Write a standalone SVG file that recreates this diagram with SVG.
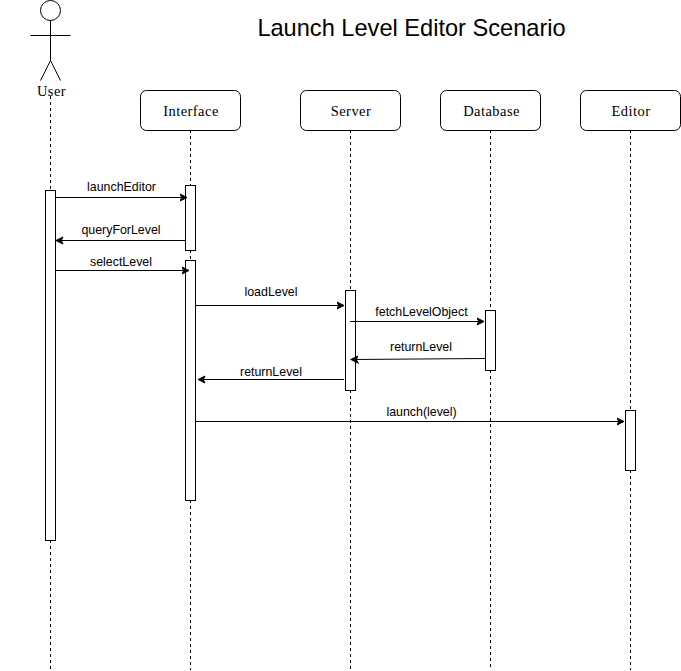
<svg xmlns="http://www.w3.org/2000/svg" width="681" height="671" viewBox="0 0 681 671">
<defs>
<style>
.ll{stroke:#000;stroke-width:1;stroke-dasharray:3 3;fill:none}
.box{fill:#fff;stroke:#000;stroke-width:1}
.act{fill:#fff;stroke:#000;stroke-width:1}
.msg{stroke:#000;stroke-width:1;fill:none;marker-end:url(#arr)}
.actor{stroke:#000;stroke-width:1;fill:none}
.serif{font-family:"Liberation Serif",serif;font-size:14.5px;letter-spacing:.45px;text-anchor:middle;fill:#000}
.sans{font-family:"Liberation Sans",Arial,sans-serif;font-size:12.4px;text-anchor:middle;fill:#000}
</style>
<marker id="arr" markerUnits="userSpaceOnUse" markerWidth="9" markerHeight="9" refX="7.5" refY="4" orient="auto" viewBox="0 0 9 8">
<path d="M0.5 0.5L7.5 4L0.5 7.5L2.2 4Z" fill="#000" stroke="#000"/>
</marker>
</defs>
<rect width="681" height="671" fill="#fff"/>
<text x="411.5" y="36" font-family="'Liberation Sans',Arial,sans-serif" font-size="23.6" text-anchor="middle">Launch Level Editor Scenario</text>
<g id="lifelines">
<path class="ll" d="M50.5 96V190M50.5 540V670"/>
<path class="ll" d="M190.5 130V185M190.5 250V260M190.5 500V670"/>
<path class="ll" d="M350.5 130V290M350.5 390V670"/>
<path class="ll" d="M490.5 130V310M490.5 370V670"/>
<path class="ll" d="M630.5 130V410M630.5 470V670"/>
</g>
<g id="user">
<circle class="actor" cx="50.5" cy="10.5" r="10"/>
<path class="actor" d="M50.5 20.5V60.5M30.5 35.5H70.5M40.5 80.5L50.5 60.5L60.5 80.5"/>
<text class="serif" x="51.5" y="96">User</text>
<rect class="act" x="45.5" y="190.5" width="10" height="350"/>
</g>
<g id="interface">
<rect class="box" x="140.5" y="90.5" width="100" height="40" rx="6" ry="6"/>
<text class="serif" x="191" y="116">Interface</text>
<rect class="act" x="185.5" y="185.5" width="10" height="65"/>
<rect class="act" x="185.5" y="260.5" width="10" height="240"/>
</g>
<g id="server">
<rect class="box" x="300.5" y="90.5" width="100" height="40" rx="6" ry="6"/>
<text class="serif" x="351" y="116">Server</text>
<rect class="act" x="345.5" y="290.5" width="10" height="100"/>
</g>
<g id="database">
<rect class="box" x="440.5" y="90.5" width="100" height="40" rx="6" ry="6"/>
<text class="serif" x="491.5" y="116">Database</text>
<rect class="act" x="485.5" y="310.5" width="10" height="60"/>
</g>
<g id="editor">
<rect class="box" x="580.5" y="90.5" width="100" height="40" rx="6" ry="6"/>
<text class="serif" x="631" y="116">Editor</text>
<rect class="act" x="625.5" y="410.5" width="10" height="60"/>
</g>
<g id="connectors">
<path class="msg" d="M56 197.5H187"/>
<path class="msg" d="M186 240.5H56"/>
<path class="msg" d="M55 270.5H189"/>
<path class="msg" d="M195 305.5H344"/>
<path class="msg" d="M350 321.5H484"/>
<path class="msg" d="M485 358.5L351 359.5"/>
<path class="msg" d="M344 379.5H198"/>
<path class="msg" d="M195 421.5H624"/>
</g>
<g id="labels">
<text class="sans" x="121.5" y="191">launchEditor</text>
<text class="sans" x="121" y="234">queryForLevel</text>
<text class="sans" x="121" y="266">selectLevel</text>
<text class="sans" x="271" y="296">loadLevel</text>
<text class="sans" x="421.5" y="316">fetchLevelObject</text>
<text class="sans" x="421" y="351">returnLevel</text>
<text class="sans" x="271" y="376">returnLevel</text>
<text class="sans" x="421.5" y="416">launch(level)</text>
</g>
</svg>
